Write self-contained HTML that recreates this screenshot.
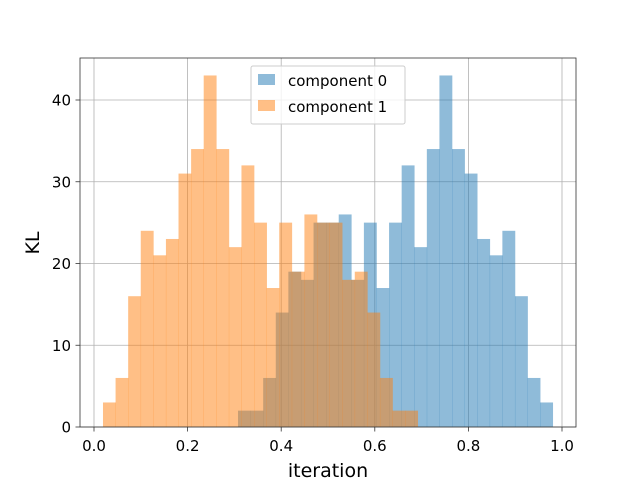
<!DOCTYPE html>
<html><head><meta charset="utf-8"><style>
body{margin:0;background:#fff;font-family:"Liberation Sans","DejaVu Sans",sans-serif;}
svg text{font-family:"DejaVu Sans","Liberation Sans",sans-serif;}
</style></head><body>
<svg id="chart" width="640" height="480" viewBox="0 0 640 480" xmlns="http://www.w3.org/2000/svg">
<rect width="640" height="480" fill="#fff"/>
<g id="grid"></g>
<g id="bars"></g>
<rect x="80" y="58" width="496" height="369" fill="none" stroke="#333" stroke-width="0.8"/>
<g id="ticks"></g>
<text x="328" y="477" font-size="19" text-anchor="middle">iteration</text>
<text x="39" y="243" font-size="19" text-anchor="middle" transform="rotate(-90 39 243)">KL</text>
<g>
<rect x="251" y="66" width="154" height="58" rx="2" fill="#fff" fill-opacity="0.8" stroke="#ccc"/>
<rect x="258" y="74" width="17" height="11" fill="#1f77b4" fill-opacity="0.5"/>
<text x="288" y="86" font-size="15">component 0</text>
<rect x="258" y="100" width="17" height="11" fill="#ff7f0e" fill-opacity="0.5"/>
<text x="288" y="112" font-size="15">component 1</text>
</g>
</svg>
<script>
const comp0Start = 0.3077;
const comp1Start = 0.0192;
const binWidth = 0.0269;
const comp0Counts = [2,2,6,14,19,18,25,25,26,18,25,17,25,32,22,34,43,34,31,23,21,24,16,6,3];
const comp1Counts = [3,6,16,24,21,23,31,34,43,34,22,32,25,17,25,19,26,25,25,18,19,14,6,2,2];
const xTicks = [0,0.2,0.4,0.6,0.8,1.0];
const xTickLabels = ["0.0","0.2","0.4","0.6","0.8","1.0"];
const yTicks = [0,10,20,30,40];
const NS = "http://www.w3.org/2000/svg";
const X = v => 94 + v * 468;
const Y = v => 427 - v * 8.175;
const grid = document.getElementById('grid');
const ticks = document.getElementById('ticks');
const bars = document.getElementById('bars');
function mk(tag, attrs, parent){const e=document.createElementNS(NS,tag);for(const k in attrs)e.setAttribute(k,attrs[k]);parent.appendChild(e);return e;}
xTicks.forEach((t,i)=>{
  const g = mk('line',{x1:X(t),x2:X(t),y1:58,y2:427,stroke:'#b0b0b0','stroke-width':0.8},grid);
  
  
  const tk = mk('line',{x1:X(t),x2:X(t),y1:427,y2:431.5,stroke:'#333','stroke-width':0.8},ticks);
  
  
  const tx = mk('text',{x:X(t),y:451,'font-size':15,'text-anchor':'middle'},ticks);
  tx.textContent = xTickLabels[i];
  
  
});
yTicks.forEach(t=>{
  const g = mk('line',{x1:80,x2:576,y1:Y(t),y2:Y(t),stroke:'#b0b0b0','stroke-width':0.8},grid);
  
  
  const tk = mk('line',{x1:75.5,x2:80,y1:Y(t),y2:Y(t),stroke:'#333','stroke-width':0.8},ticks);
  
  
  const tx = mk('text',{x:71,y:Y(t)+5.5,'font-size':15,'text-anchor':'end'},ticks);
  tx.textContent = String(t);
  
  
});
function drawSeries(counts, start, color, name){
  counts.forEach((c,i)=>{
    const x0 = X(start + i*binWidth), x1 = X(start + (i+1)*binWidth);
    const r = mk('rect',{x:x0,y:Y(c),width:x1-x0+0.3,height:Y(0)-Y(c),fill:color,'fill-opacity':0.5},bars);
    
    
  });
}
drawSeries(comp0Counts, comp0Start, '#1f77b4', 'bar-component-0');
drawSeries(comp1Counts, comp1Start, '#ff7f0e', 'bar-component-1');
</script>
</body></html>
